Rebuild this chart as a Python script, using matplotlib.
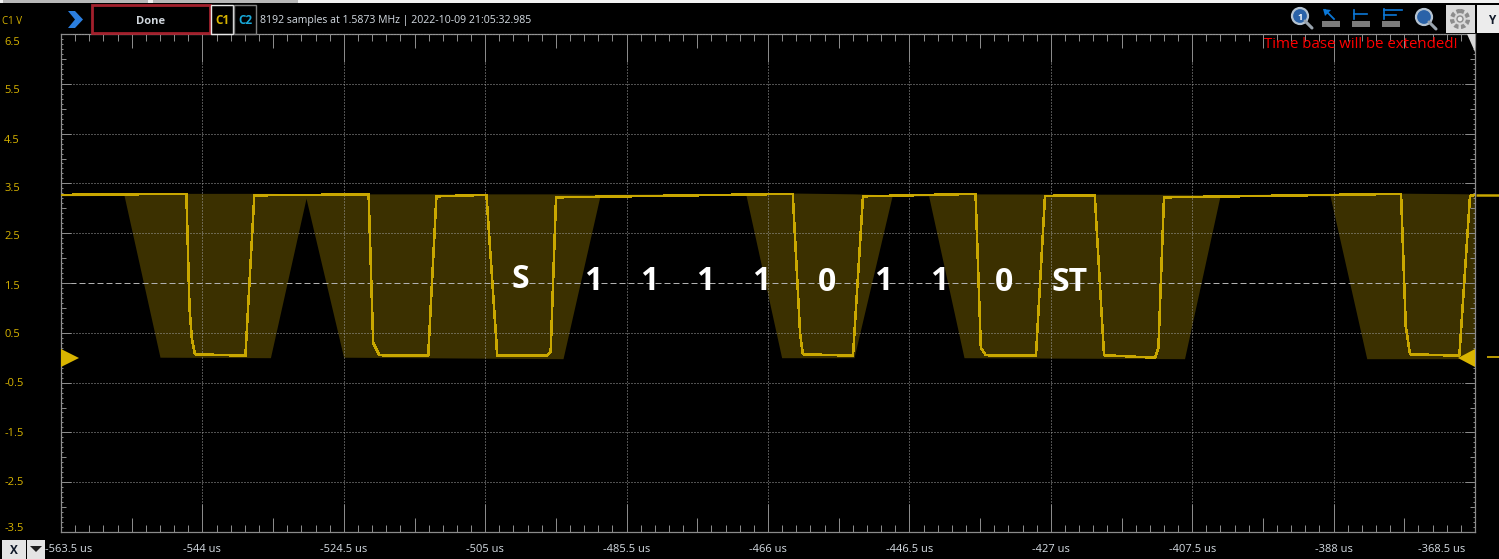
import numpy as np
import matplotlib
matplotlib.use('Agg')
import matplotlib.pyplot as plt
from matplotlib.patches import Rectangle, Polygon, Circle
from matplotlib.transforms import ScaledTranslation

# scope trace, time in us and level in V
trace_t = [-563.50, -546.21, -545.78, -545.46, -545.21, -545.02, -538.07, -536.84,
           -521.08, -520.45, -519.60, -512.86, -511.73,
           -504.83, -503.45, -503.36, -496.48, -495.97, -495.23,
           -462.59, -461.58, -461.19, -454.28, -452.90,
           -437.38, -436.65, -435.97, -429.05, -427.80,
           -420.94, -419.66, -412.63, -412.16, -411.39,
           -378.70, -378.05, -377.46, -370.66, -369.19, -368.50]
trace_v = [3.27, 3.29, 1.00, 0.40, 0.20, 0.07, 0.04, 3.26,
           3.28, 0.30, 0.05, 0.04, 3.24,
           3.27, 0.30, 0.04, 0.04, 0.13, 3.22,
           3.29, 0.49, 0.07, 0.04, 3.24,
           3.29, 0.20, 0.05, 0.04, 3.25,
           3.26, 0.05, 0.00, 0.20, 3.22,
           3.29, 0.63, 0.07, 0.04, 3.25, 3.27]

# min/max envelope behind the trace
env_t = [-563.50, -554.81, -549.85, -534.62, -529.71, -524.53, -494.27, -489.17,
         -469.03, -464.12, -454.14, -448.90, -443.85, -438.97, -408.56, -403.66,
         -388.49, -383.43, -368.50]
env_hi = [3.28, 3.29, 3.30, 3.30, 3.29, 3.29, 3.29, 3.28,
          3.30, 3.31, 3.29, 3.27, 3.27, 3.29, 3.28, 3.27,
          3.30, 3.31, 3.29]
env_lo = [3.25, 3.26, 0.01, 0.00, 3.20, 0.01, -0.02, 3.25,
          3.26, 0.00, 0.00, 3.24, 3.25, 0.00, -0.02, 3.25,
          3.25, -0.02, -0.02]

# decoded bits written on top of the capture
bit_labels = ['S', '1', '1', '1', '1', '0', '1', '1', '0', 'ST']
bit_t = [-500.20, -490.13, -482.41, -474.69, -466.96, -457.86, -450.14, -442.41, -433.45, -424.35]
bit_v = [1.58, 1.53, 1.53, 1.53, 1.53, 1.51, 1.53, 1.53, 1.51, 1.51]

x_ticks = [-563.5, -544, -524.5, -505, -485.5, -466, -446.5, -427, -407.5, -388, -368.5]
x_labels = ['-563.5 us', '-544 us', '-524.5 us', '-505 us', '-485.5 us', '-466 us',
            '-446.5 us', '-427 us', '-407.5 us', '-388 us', '-368.5 us']
y_ticks = [6.5, 5.5, 4.5, 3.5, 2.5, 1.5, 0.5, -0.5, -1.5, -2.5, -3.5]
y_labels = ['6.5', '5.5', '4.5', '3.5', '2.5', '1.5', '0.5', '-0.5', '-1.5', '-2.5', '-3.5']

W, H = 1499, 559
plt.rcParams['font.family'] = ['Open Sans', 'DejaVu Sans']
YELLOW = '#c9a700'
LABEL_YELLOW = '#d8b400'
GREY = '#8a8a8a'
TICK_TEXT = '#d6dde4'

fig = plt.figure(figsize=(W / 100, H / 100), dpi=100, facecolor='black')
ax = fig.add_axes([61 / W, 1 - 532 / H, (1475 - 61) / W, (532 - 34) / H], facecolor='black')

ax.fill_between(env_t, env_lo, env_hi, color='#3b3000', linewidth=0, zorder=1)
ax.plot(trace_t, trace_v, color=YELLOW, lw=1.1, antialiased=False, zorder=3)

ax.set_xlim(-563.5, -368.5)
ax.set_ylim(-3.5, 6.5)
ax.set_axisbelow(False)

ax.set_xticks(x_ticks, labels=x_labels)
ax.set_yticks(y_ticks, labels=y_labels)
ax.set_xticks(np.arange(-563.5, -368.4, 1.95), minor=True)
ax.set_yticks(np.arange(-3.5, 6.51, 0.1), minor=True)

ax.tick_params(axis='x', which='major', direction='in', top=True, length=20.2, width=0.72,
               color=GREY, labelcolor=TICK_TEXT, labelsize=8, pad=8.5)
ax.tick_params(axis='y', which='major', direction='in', right=True, length=7.2, width=0.72,
               color=GREY, labelcolor=LABEL_YELLOW, labelsize=8, pad=41)
ax.tick_params(axis='x', which='minor', direction='in', top=True, length=5, width=0.72, color=GREY)
ax.tick_params(axis='y', which='minor', direction='in', right=True, length=1.5, width=0.72, color=GREY)

# every fifth minor tick is a bit longer
for loc, tick in zip(ax.xaxis.get_minorticklocs(), ax.xaxis.get_minor_ticks()):
    if abs((loc + 563.5) / 9.75 - round((loc + 563.5) / 9.75)) < 1e-6:
        tick.tick1line.set_markersize(10)
        tick.tick2line.set_markersize(10)
for loc, tick in zip(ax.yaxis.get_minorticklocs(), ax.yaxis.get_minor_ticks()):
    if abs((loc + 3.5) / 0.5 - round((loc + 3.5) / 0.5)) < 1e-6:
        tick.tick1line.set_markersize(3.6)
        tick.tick2line.set_markersize(3.6)

ax.grid(True, which='major', color='#a0a0a0', lw=0.72, linestyle=(0, (1, 2)))
for val, line in zip(y_ticks, ax.yaxis.get_gridlines()):
    if val == 1.5:
        line.set_linestyle((0, (6, 3)))
        line.set_color('#b0b0b0')

for s in ax.spines.values():
    s.set_color(GREY)
    s.set_linewidth(0.9)

# labels sit off their ticks on this scope, shifts are in pixels
y_shift = [7, 5, 5, 4, 2, 2, 0, -1, 0, -1, -5]
for lab, dy in zip(ax.get_yticklabels(), y_shift):
    lab.set_ha('left')
    lab.set_transform(lab.get_transform() + ScaledTranslation(0, -dy / 100, fig.dpi_scale_trans))
x_lab = ax.get_xticklabels()
x_lab[0].set_transform(x_lab[0].get_transform() + ScaledTranslation(8 / 100, 0, fig.dpi_scale_trans))
x_lab[-1].set_transform(x_lab[-1].get_transform() + ScaledTranslation(-33 / 100, 0, fig.dpi_scale_trans))

for lab, t, v in zip(bit_labels, bit_t, bit_v):
    ax.text(t, v, lab, color='white', fontsize=23, fontweight='bold', ha='center', va='center', zorder=6)

# window chrome, drawn in pixel coordinates
ui = fig.add_axes([0, 0, 1, 1], facecolor='none')
ui.set_xlim(0, W)
ui.set_ylim(H, 0)
ui.axis('off')

ui.add_patch(Rectangle((0, 0), W, 3, color='#f2f2f2', lw=0))
ui.add_patch(Rectangle((3, 0), 145, 2.5, color='#b8b8b8', lw=0))
ui.add_patch(Rectangle((153, 0), 145, 2.5, color='#b8b8b8', lw=0))

ui.text(2, 21, 'C1 V', color=LABEL_YELLOW, fontsize=7, va='center')
ui.add_patch(Polygon([[68, 11], [75, 11], [83, 19.5], [75, 28], [68, 28], [75, 19.5]], color='#2b7fe0', lw=0))

ui.add_patch(Rectangle((92, 5), 118, 28, fill=False, ec='#a3202c', lw=2))
ui.text(150.5, 21, 'Done', color='#d0d6dc', fontsize=8, fontweight='bold', ha='center', va='center')
ui.add_patch(Rectangle((211.5, 5), 21.5, 28.5, fill=False, ec='#e8e8e8', lw=1))
ui.text(222, 21, 'C1', color=LABEL_YELLOW, fontsize=8.5, fontweight='bold', ha='center', va='center')
ui.add_patch(Rectangle((234.5, 5), 22, 28.5, fill=False, ec='#808080', lw=1))
ui.text(245.5, 21, 'C2', color='#18a8d8', fontsize=8.5, fontweight='bold', ha='center', va='center')
ui.text(260, 21, '8192 samples at 1.5873 MHz | 2022-10-09 21:05:32.985', color=TICK_TEXT, fontsize=7.6, va='center')

ui.text(1264, 45, 'Time base will be extended!', color='#ff0000', fontsize=10.8, va='center')

# toolbar icons
for cx, cy, lab in [(1300, 16, '1'), (1424, 17, '')]:
    ui.plot([cx + 5, cx + 12], [cy + 5, cy + 12], color='#9aa4ae', lw=2.2, solid_capstyle='round')
    ui.add_patch(Circle((cx, cy), 8, fc='#2a62a8', ec='#b4c2d0', lw=1.6))
    if lab:
        ui.text(cx, cy + 1, lab, color='white', fontsize=6.5, fontweight='bold', ha='center', va='center')
for x0 in [1322, 1352, 1382]:
    ui.add_patch(Rectangle((x0, 21), 18, 6, color='#7c7c7c', lw=0))
ui.plot([1325, 1334], [10, 19], color='#0b78d8', lw=1.3)
ui.add_patch(Polygon([[1323, 9], [1331, 10], [1325, 16]], color='#0b78d8', lw=0))
ui.plot([1354, 1354], [10, 19], color='#0b78d8', lw=1.2)
ui.plot([1354, 1367], [14, 14], color='#0b78d8', lw=1.2)
ui.plot([1384, 1384], [9, 19], color='#0b78d8', lw=1.2)
ui.plot([1384, 1402], [10, 10], color='#0b78d8', lw=1.2)
ui.plot([1384, 1396], [15, 15], color='#0b78d8', lw=1.2)

ui.add_patch(Rectangle((1446, 5), 29, 28, color='#dcdcdc', lw=0))
ui.add_patch(Circle((1460, 19), 8, fc='#d8d8d8', ec='#8c8c8c', lw=3, ls=(0, (1, 0.6))))
ui.add_patch(Circle((1460, 19), 3, fc='#e8e8e8', ec='#8c8c8c', lw=1))
ui.add_patch(Rectangle((1477, 5), 22, 28, color='#ececec', lw=0))
ui.text(1492, 21, 'Y', color='#101828', fontsize=8.5, fontweight='bold', ha='center', va='center')

# corner flag, channel markers and what runs off the right edge
ui.add_patch(Polygon([[1467, 34], [1475, 34], [1475, 52]], color='#d8d8d8', lw=0))
ui.add_patch(Polygon([[61, 349], [79, 358], [61, 367]], color='#d8b400', lw=0))
ui.add_patch(Polygon([[1475, 349], [1458, 358], [1475, 367]], color='#d8b400', lw=0))
ui.plot([1476, W], [195, 195], color=YELLOW, lw=1.8, solid_capstyle='butt')
ui.plot([1487, W], [356.5, 356.5], color=YELLOW, lw=1.3, solid_capstyle='butt')

# X selector bottom left
ui.add_patch(Rectangle((2, 540), 24, 19, color='#e4e4e4', lw=0))
ui.add_patch(Rectangle((27, 540), 18, 19, color='#e4e4e4', lw=0))
ui.text(14, 550, 'X', color='#101828', fontsize=8.5, fontweight='bold', ha='center', va='center')
ui.add_patch(Polygon([[30, 546], [42, 546], [36, 552]], color='#202020', lw=0))

fig.savefig('out.png', dpi=100, facecolor='black')
